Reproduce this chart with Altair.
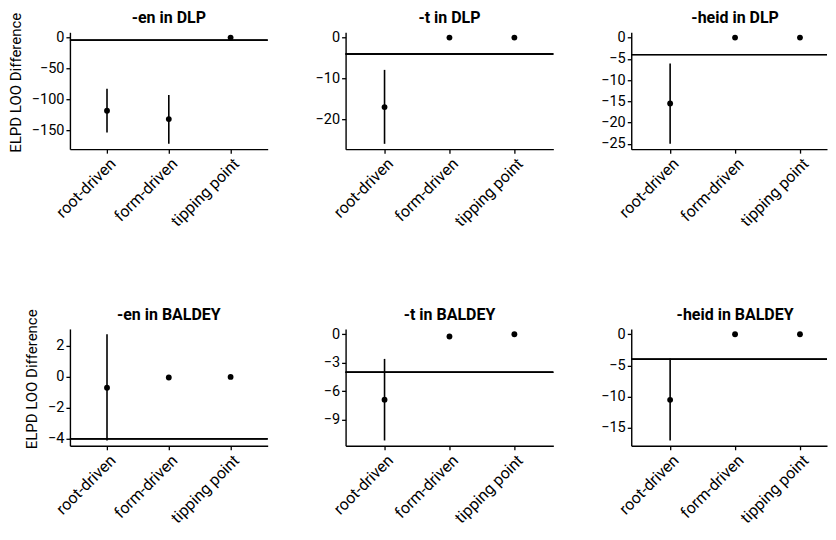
import altair as alt
import pandas as pd

categories = ["root-driven", "form-driven", "tipping point"]
titles = ["-en in DLP", "-t in DLP", "-heid in DLP",
          "-en in BALDEY", "-t in BALDEY", "-heid in BALDEY"]
est = [[-118, -131.5, 0], [-17, 0, 0], [-15.5, 0, 0],
       [-0.7, -0.04, 0], [-6.9, -0.24, 0], [-10.5, 0, 0]]
lo = [[-153, -171.4, 0], [-26, 0, 0], [-25, 0, 0],
      [-4.1, -0.04, 0], [-11.2, -0.24, 0], [-17, 0, 0]]
hi = [[-82.6, -92.7, 0], [-7.9, 0, 0], [-6.1, 0, 0],
      [2.75, -0.04, 0], [-2.6, -0.24, 0], [-3.9, 0, 0]]
ticks = [[0, -50, -100, -150], [0, -10, -20], [0, -5, -10, -15, -20, -25],
         [2, 0, -2, -4], [0, -3, -6, -9], [0, -5, -10, -15]]
ref_line = -4
y_title = "ELPD LOO Difference"

widths = [198, 208, 196]
# point-scale outer padding / alignment per column (third column is cut by the page edge)
x_pad = [0.6, 0.6, 0.5077]
x_align = [0.5, 0.5, 0.59]
H = 117


def panel(i):
    c = i % 3
    df = pd.DataFrame({"model": categories, "est": est[i], "lo": lo[i], "hi": hi[i]})
    mn, mx = min(lo[i]), max(hi[i])
    r = mx - mn
    dom = [mn - 0.05 * r, mx + 0.05 * r]
    scale = alt.Scale(domain=dom, nice=False, zero=False)
    ttl = y_title if c == 0 else ""
    axis = alt.Axis(values=ticks[i], titlePadding=8, titleFontSize=15,
                    titleFontWeight="normal", titleColor="black", titleY=50,
                    labelOverlap=False, labelSeparation=-40,
                    labelExpr="replace(datum.label, '-', '\u2212')")
    x = alt.X("model:N", sort=categories, title="",
              scale=alt.Scale(type="point", padding=x_pad[c], align=x_align[c]),
              axis=alt.Axis(labelAngle=-45, labelAlign="right", labelBaseline="top",
                            labelOverlap=False))
    base = alt.Chart(df)
    bars = base.mark_rule(color="black", strokeWidth=1.6).encode(
        x=x, y=alt.Y("lo:Q", scale=scale, axis=axis, title=ttl), y2="hi:Q")
    pts = base.mark_circle(color="black", size=34, opacity=1).encode(
        x=x, y=alt.Y("est:Q", scale=scale, axis=axis, title=ttl))
    hline = base.mark_rule(color="black", strokeWidth=1.4).encode(
        y=alt.datum(ref_line, scale=scale, axis=axis, title=ttl))
    head = alt.Chart(pd.DataFrame({"t": [titles[i]]})).mark_text(
        fontSize=16, fontWeight="bold", color="black", align="center",
        baseline="alphabetic").encode(
        text="t:N", x=alt.value(208 / 2 if c == 2 else widths[c] / 2), y=alt.value(-9))
    return alt.layer(bars, pts, hline, head).properties(width=widths[c], height=H)


chart = alt.concat(*[panel(i) for i in range(6)], columns=3,
                   spacing={"row": 180, "column": 78}, bounds="flush", align="each"
                   ).properties(padding={"left": 0, "top": 2, "right": 0, "bottom": 0}
).configure(font="Roboto").configure_view(stroke=None).configure_axis(
    grid=False, domainColor="black", tickColor="black", labelColor="black",
    domainWidth=1.4, tickWidth=1.3, tickSize=4, labelFontSize=14.5, labelPadding=2,
    labelFont="Roboto", titleFont="Roboto", labelOverlap=False
).configure_axisX(labelFontSize=16)

chart.save("out.html", embed_options={"renderer": "svg", "actions": False})
